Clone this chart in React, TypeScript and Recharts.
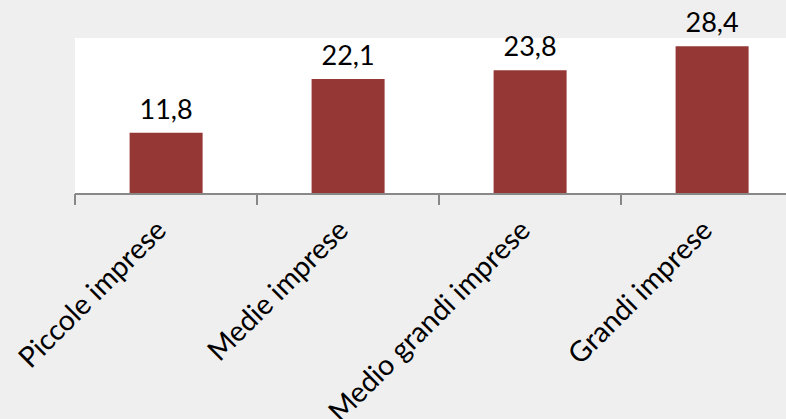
import React from "react";
import { BarChart, Bar, XAxis, YAxis, CartesianGrid, LabelList } from "recharts";

const categories = ["Piccole imprese", "Medie imprese", "Medio grandi imprese", "Grandi imprese"];
const values = [11.8, 22.1, 23.8, 28.4];

const data = categories.map((name, i) => ({ name, value: values[i] }));

const FONT = "Lato, 'Open Sans', sans-serif";
const HALF_BAND = 91;

const CategoryTick = (props: any) => {
  const { x, y, payload } = props;
  return (
    <g>
      <line x1={x - HALF_BAND} y1={y} x2={x - HALF_BAND} y2={y + 11} stroke="#888888" strokeWidth={2} />
      <g transform={`translate(${x + 2},${y + 38})`}>
        <text
          transform="rotate(-45)"
          textAnchor="end"
          fontFamily={FONT}
          fontSize={28.5}
          fill="#000000"
        >
          {payload.value}
        </text>
      </g>
    </g>
  );
};

export default function App() {
  return (
    <div
      style={{
        position: "absolute",
        left: 0,
        top: 0,
        width: 786,
        height: 419,
        overflow: "hidden",
        background: "#efefef",
      }}
    >
      <BarChart
        width={830}
        height={419}
        data={data}
        margin={{ top: 38, right: 27, bottom: 0, left: 75 }}
        barCategoryGap="30%"
      >
        <CartesianGrid fill="#ffffff" horizontal={false} vertical={false} stroke="none" />
        <XAxis
          dataKey="name"
          height={225}
          axisLine={{ stroke: "#888888", strokeWidth: 2 }}
          tickLine={false}
          tickSize={0}
          tickMargin={0}
          interval={0}
          tick={<CategoryTick />}
        />
        <YAxis hide domain={[0, 30]} width={0} />
        <Bar dataKey="value" fill="#953735" isAnimationActive={false}>
          <LabelList
            dataKey="value"
            position="top"
            offset={14}
            formatter={(v: any) => Number(v).toFixed(1).replace(".", ",")}
            style={{ fontFamily: FONT, fontSize: 27, fill: "#000000" }}
          />
        </Bar>
      </BarChart>
    </div>
  );
}
